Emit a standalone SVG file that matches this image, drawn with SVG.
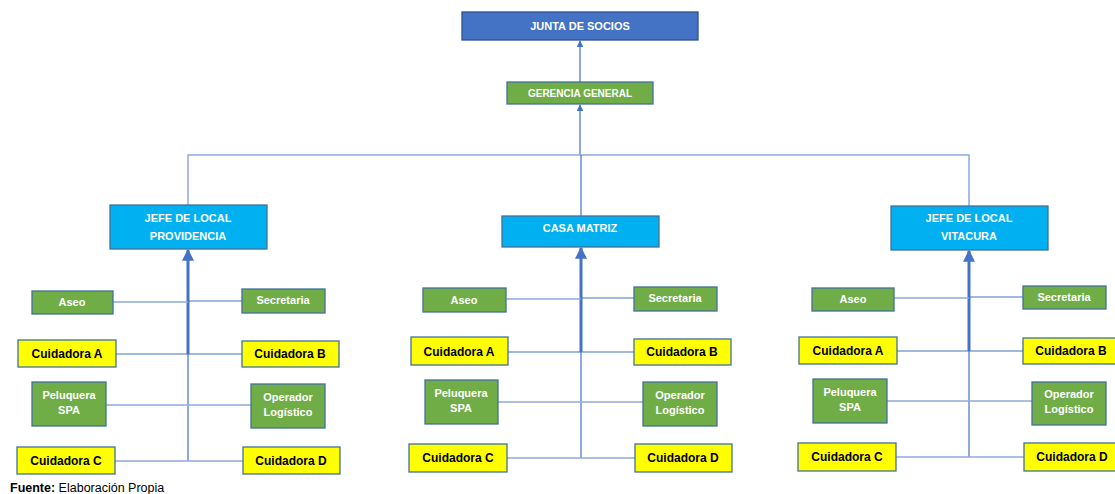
<svg xmlns="http://www.w3.org/2000/svg" width="1115" height="494" viewBox="0 0 1115 494">
  <style>
    .box { stroke: #41719C; stroke-width: 1.3; }
    .top { fill: #4472C4; stroke: #2F528F; }
    .green { fill: #70AD47; }
    .cyan { fill: #00B0F0; }
    .yellow { fill: #FFFF00; }
    text { font-family: "Liberation Sans", Arial, sans-serif; font-weight: bold; text-anchor: middle; }
    .w { fill: #FFFFFF; font-size: 11px; }
    .k { fill: #000000; font-size: 12px; }
    .link { stroke: #4472C4; stroke-width: 1.2; fill: none; }
    .soft { stroke: #8FAADC; stroke-width: 1.5; fill: none; }
    .thick { stroke: #4472C4; stroke-width: 3; fill: none; }
    .note { font-weight: normal; text-anchor: start; fill: #000; font-size: 12.5px; }
  </style>
  <defs>
    <marker id="arrow" viewBox="0 0 10 10" refX="9" refY="5" markerWidth="7" markerHeight="7" markerUnits="userSpaceOnUse" orient="auto">
      <path d="M0,0 L10,5 L0,10 z" fill="#4472C4"/>
    </marker>
    <marker id="arrowBig" viewBox="0 0 10 10" refX="9" refY="5" markerWidth="4" markerHeight="4" orient="auto">
      <path d="M0,0 L10,5 L0,10 z" fill="#4472C4"/>
    </marker>
  </defs>

  <rect width="1115" height="494" fill="#FFFFFF"/>

  <!-- connectors -->
  <g id="connectors">
    <line class="link" x1="580" y1="82" x2="580" y2="41" marker-end="url(#arrow)"/>
    <line class="link" x1="580" y1="155" x2="580" y2="105" marker-end="url(#arrow)"/>
    <path class="soft" d="M188,205 V155 H969 V206"/>
    <line class="link" x1="581" y1="155" x2="581" y2="216"/>

    <!-- Providencia branch -->
    <line class="thick" x1="188" y1="354" x2="188" y2="250" marker-end="url(#arrowBig)"/>
    <line class="link" x1="188" y1="354" x2="188" y2="461"/>
    <line class="soft" x1="113" y1="302" x2="188" y2="302"/>
    <line class="link" x1="188" y1="301" x2="242" y2="301"/>
    <line class="link" x1="116" y1="354" x2="242" y2="354"/>
    <line class="soft" x1="106" y1="405" x2="251" y2="405"/>
    <line class="soft" x1="115" y1="461" x2="243" y2="461"/>

    <!-- Casa Matriz branch -->
    <line class="thick" x1="581" y1="352" x2="581" y2="248" marker-end="url(#arrowBig)"/>
    <line class="link" x1="581" y1="352" x2="581" y2="458"/>
    <line class="soft" x1="506" y1="299" x2="581" y2="299"/>
    <line class="link" x1="581" y1="298" x2="634" y2="298"/>
    <line class="link" x1="508" y1="352" x2="634" y2="352"/>
    <line class="soft" x1="498" y1="402" x2="643" y2="402"/>
    <line class="soft" x1="507" y1="458" x2="635" y2="458"/>

    <!-- Vitacura branch -->
    <line class="thick" x1="969" y1="351" x2="969" y2="251" marker-end="url(#arrowBig)"/>
    <line class="link" x1="969" y1="351" x2="969" y2="457"/>
    <line class="soft" x1="894" y1="298" x2="969" y2="298"/>
    <line class="link" x1="969" y1="297" x2="1023" y2="297"/>
    <line class="link" x1="897" y1="351" x2="1023" y2="351"/>
    <line class="soft" x1="887" y1="401" x2="1032" y2="401"/>
    <line class="soft" x1="896" y1="457" x2="1024" y2="457"/>
  </g>

  <!-- top levels -->
  <g id="junta">
    <rect class="box top" x="462" y="12" width="236" height="28"/>
    <text class="w" x="580" y="30">JUNTA DE SOCIOS</text>
  </g>
  <g id="gerencia">
    <rect class="box green" x="507" y="82" width="146" height="22"/>
    <text class="w" x="580" y="97" style="font-size:10px">GERENCIA GENERAL</text>
  </g>

  <!-- Providencia -->
  <g id="jefe-providencia">
    <rect class="box cyan" x="110" y="205" width="157" height="44"/>
    <text class="w" x="188" y="222">JEFE DE LOCAL</text>
    <text class="w" x="188" y="240">PROVIDENCIA</text>
  </g>
  <g id="p-aseo"><rect class="box green" x="32" y="291" width="81" height="23"/><text class="w" x="72" y="306">Aseo</text></g>
  <g id="p-secretaria"><rect class="box green" x="242" y="289" width="83" height="24"/><text class="w" x="283" y="304">Secretaria</text></g>
  <g id="p-cuidadora-a"><rect class="box yellow" x="18" y="340" width="98" height="27"/><text class="k" x="67" y="358">Cuidadora A</text></g>
  <g id="p-cuidadora-b"><rect class="box yellow" x="242" y="341" width="97" height="26"/><text class="k" x="290" y="358">Cuidadora B</text></g>
  <g id="p-peluquera"><rect class="box green" x="32" y="382" width="74" height="44"/><text class="w" x="69" y="399">Peluquera</text><text class="w" x="69" y="414">SPA</text></g>
  <g id="p-operador"><rect class="box green" x="251" y="384" width="74" height="44"/><text class="w" x="288" y="401">Operador</text><text class="w" x="288" y="416">Logístico</text></g>
  <g id="p-cuidadora-c"><rect class="box yellow" x="17" y="447" width="98" height="27"/><text class="k" x="66" y="465">Cuidadora C</text></g>
  <g id="p-cuidadora-d"><rect class="box yellow" x="243" y="447" width="97" height="27"/><text class="k" x="291" y="465">Cuidadora D</text></g>

  <!-- Casa Matriz -->
  <g id="casa-matriz">
    <rect class="box cyan" x="502" y="216" width="157" height="31"/>
    <text class="w" x="580" y="232">CASA MATRIZ</text>
  </g>
  <g id="m-aseo"><rect class="box green" x="423" y="288" width="83" height="24"/><text class="w" x="464" y="304">Aseo</text></g>
  <g id="m-secretaria"><rect class="box green" x="634" y="287" width="83" height="24"/><text class="w" x="675" y="302">Secretaria</text></g>
  <g id="m-cuidadora-a"><rect class="box yellow" x="411" y="337" width="97" height="28"/><text class="k" x="459" y="356">Cuidadora A</text></g>
  <g id="m-cuidadora-b"><rect class="box yellow" x="634" y="339" width="97" height="26"/><text class="k" x="682" y="356">Cuidadora B</text></g>
  <g id="m-peluquera"><rect class="box green" x="425" y="380" width="73" height="44"/><text class="w" x="461" y="397">Peluquera</text><text class="w" x="461" y="412">SPA</text></g>
  <g id="m-operador"><rect class="box green" x="643" y="382" width="74" height="44"/><text class="w" x="680" y="399">Operador</text><text class="w" x="680" y="414">Logístico</text></g>
  <g id="m-cuidadora-c"><rect class="box yellow" x="409" y="444" width="98" height="28"/><text class="k" x="458" y="462">Cuidadora C</text></g>
  <g id="m-cuidadora-d"><rect class="box yellow" x="635" y="444" width="97" height="28"/><text class="k" x="683" y="462">Cuidadora D</text></g>

  <!-- Vitacura -->
  <g id="jefe-vitacura">
    <rect class="box cyan" x="891" y="206" width="157" height="44"/>
    <text class="w" x="969" y="222">JEFE DE LOCAL</text>
    <text class="w" x="969" y="240">VITACURA</text>
  </g>
  <g id="v-aseo"><rect class="box green" x="812" y="288" width="82" height="23"/><text class="w" x="853" y="303">Aseo</text></g>
  <g id="v-secretaria"><rect class="box green" x="1023" y="286" width="83" height="23"/><text class="w" x="1064" y="301">Secretaria</text></g>
  <g id="v-cuidadora-a"><rect class="box yellow" x="799" y="337" width="98" height="27"/><text class="k" x="848" y="355">Cuidadora A</text></g>
  <g id="v-cuidadora-b"><rect class="box yellow" x="1023" y="338" width="97" height="26"/><text class="k" x="1071" y="355">Cuidadora B</text></g>
  <g id="v-peluquera"><rect class="box green" x="813" y="379" width="74" height="44"/><text class="w" x="850" y="396">Peluquera</text><text class="w" x="850" y="411">SPA</text></g>
  <g id="v-operador"><rect class="box green" x="1032" y="382" width="74" height="43"/><text class="w" x="1069" y="398">Operador</text><text class="w" x="1069" y="413">Logístico</text></g>
  <g id="v-cuidadora-c"><rect class="box yellow" x="798" y="443" width="98" height="28"/><text class="k" x="847" y="461">Cuidadora C</text></g>
  <g id="v-cuidadora-d"><rect class="box yellow" x="1024" y="443" width="97" height="28"/><text class="k" x="1072" y="461">Cuidadora D</text></g>

  <!-- source note -->
  <text class="note" x="10" y="492"><tspan font-weight="bold">Fuente:</tspan> Elaboración Propia</text>
</svg>
